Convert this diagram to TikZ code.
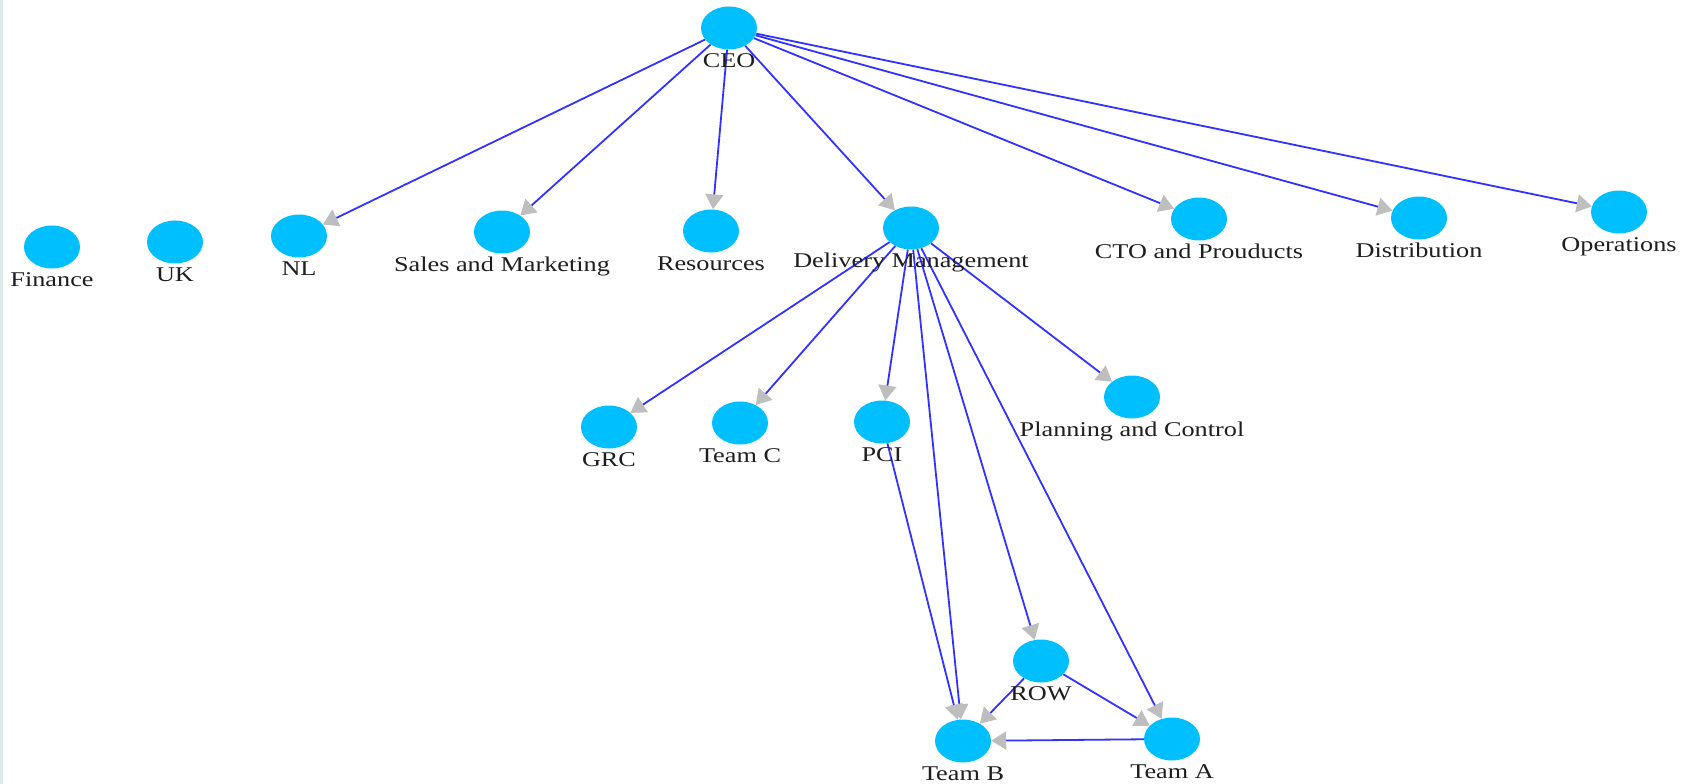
\documentclass[tikz,border=0pt]{standalone}
\usepackage{fontspec}
\setmainfont{Liberation Serif}
\newfontfamily\labfont[FakeStretch=1.25]{Liberation Serif}
\usetikzlibrary{shapes.geometric,arrows.meta}
\pgfdeclarelayer{backdrop}
\pgfdeclarelayer{edges}
\pgfsetlayers{backdrop,edges,main}
\definecolor{dotfill}{RGB}{0,191,255}
\definecolor{edgeblue}{RGB}{50,50,255}
\definecolor{tipgray}{RGB}{190,190,190}
\definecolor{labtext}{RGB}{30,30,30}
\definecolor{sidebar}{RGB}{221,233,235}
\tikzset{
  dot/.style={ellipse, fill=dotfill, draw=none, inner sep=0pt,
              minimum width=56pt, minimum height=43pt},
  lbl/.style={anchor=base, inner sep=0pt, text=labtext,
              font=\labfont\fontsize{21}{21}\selectfont},
  link/.style={draw=edgeblue, line width=1.8pt,
               -{Triangle[length=15pt, width=18pt, color=tipgray]}},
}
\begin{document}
\begin{tikzpicture}[x=1pt, y=-1pt]
  \useasboundingbox (0,0) rectangle (1692,784);
  \begin{pgfonlayer}{backdrop}
    \fill[white] (0,0) rectangle (1692,784);
    \fill[sidebar] (0,0) rectangle (2.5,784);
  \end{pgfonlayer}

  % nodes
  \node[dot] (ceo)   at (729,28)   {};
  \node[dot] (fin)   at (52,247)   {};
  \node[dot] (uk)    at (175,242)  {};
  \node[dot] (nl)    at (299,236)  {};
  \node[dot] (sales) at (502,232)  {};
  \node[dot] (res)   at (711,231)  {};
  \node[dot] (dm)    at (911,228)  {};
  \node[dot] (cto)   at (1199,219) {};
  \node[dot] (dist)  at (1419,218) {};
  \node[dot] (ops)   at (1619,212) {};
  \node[dot] (grc)   at (609,427)  {};
  \node[dot] (teamc) at (740,423)  {};
  \node[dot] (pci)   at (882,422)  {};
  \node[dot] (plan)  at (1132,397) {};
  \node[dot] (row)   at (1041,661) {};
  \node[dot] (teamb) at (963,741)  {};
  \node[dot] (teama) at (1172,739) {};

  % captions under the nodes
  \node[lbl] (ceo-t)   at ([yshift=-39.5pt]ceo.center)   {CEO};
  \node[lbl] (fin-t)   at ([yshift=-39.5pt]fin.center)   {Finance};
  \node[lbl] (uk-t)    at ([yshift=-39.5pt]uk.center)    {UK};
  \node[lbl] (nl-t)    at ([yshift=-39.5pt]nl.center)    {NL};
  \node[lbl] (sales-t) at ([yshift=-39.5pt]sales.center) {Sales and Marketing};
  \node[lbl] (res-t)   at ([yshift=-39.5pt]res.center)   {Resources};
  \node[lbl] (dm-t)    at ([yshift=-39.5pt]dm.center)    {Delivery Management};
  \node[lbl] (cto-t)   at ([yshift=-39.5pt]cto.center)   {CTO and Prouducts};
  \node[lbl] (dist-t)  at ([yshift=-39.5pt]dist.center)  {Distribution};
  \node[lbl] (ops-t)   at ([yshift=-39.5pt]ops.center)   {Operations};
  \node[lbl] (grc-t)   at ([yshift=-39.5pt]grc.center)   {GRC};
  \node[lbl] (teamc-t) at ([yshift=-39.5pt]teamc.center) {Team C};
  \node[lbl] (pci-t)   at ([yshift=-39.5pt]pci.center)   {PCI};
  \node[lbl] (plan-t)  at ([yshift=-39.5pt]plan.center)  {Planning and Control};
  \node[lbl] (row-t)   at ([yshift=-39.5pt]row.center)   {ROW};
  \node[lbl] (teamb-t) at ([yshift=-39.5pt]teamb.center) {Team B};
  \node[lbl] (teama-t) at ([yshift=-39.5pt]teama.center) {Team A};

  % connectors, kept beneath the nodes and captions
  \begin{pgfonlayer}{edges}
    \foreach \t in {nl,sales,res,dm,cto,dist,ops}
      \path[link] (ceo) -- (\t);
    \foreach \t in {grc,teamc,pci,plan,row,teama,teamb}
      \path[link] (dm) -- (\t);
    \path[link] (pci) -- (teamb);
    \path[link] (row) -- (teamb);
    \path[link] (row) -- (teama);
    \path[link] (teama) -- (teamb);
  \end{pgfonlayer}
\end{tikzpicture}
\end{document}
